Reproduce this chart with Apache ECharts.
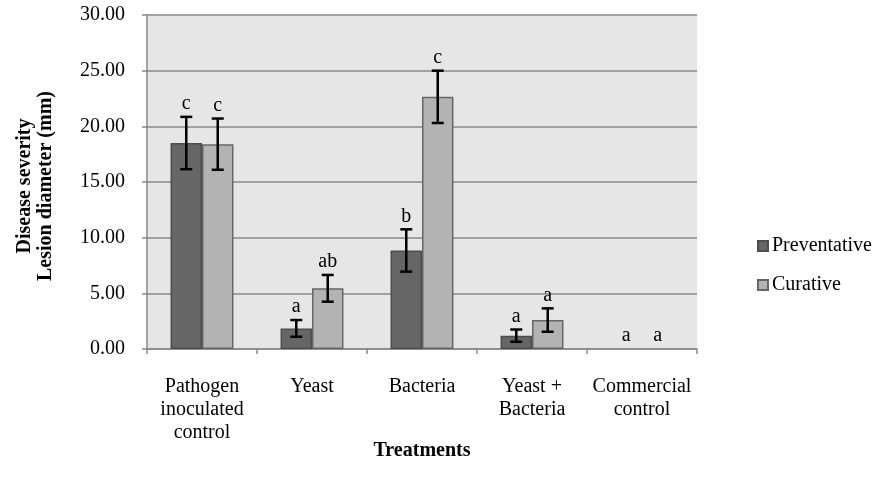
<!DOCTYPE html>
<html>
<head>
<meta charset="utf-8">
<script src="https://cdn.jsdelivr.net/npm/echarts@6/dist/echarts.min.js"></script>
<style>
html,body{margin:0;padding:0;background:#fff;}
#chart{width:875px;height:488px;}
</style>
</head>
<body>
<div id="chart"></div>
<script>
const categories = ['Pathogen\ninoculated\ncontrol', 'Yeast', 'Bacteria', 'Yeast +\nBacteria', 'Commercial\ncontrol'];
const preventative = [18.5, 1.85, 8.85, 1.2, 0];
const curative = [18.4, 5.45, 22.65, 2.6, 0];
const preventativeErr = [2.35, 0.75, 1.9, 0.55, 0];
const curativeErr = [2.3, 1.2, 2.35, 1.05, 0];
const preventativeLetters = ['c', 'a', 'b', 'a', 'a'];
const curativeLetters = ['c', 'ab', 'c', 'a', 'a'];
const yTicks = [0, 5, 10, 15, 20, 25, 30];

const FONT = "'Liberation Serif', 'Times New Roman', serif";
const FS = 20;
const chart = echarts.init(document.getElementById('chart'));

function barData(vals) {
  return vals.map(v => v === 0 ? { value: v, itemStyle: { borderWidth: 0 } } : v);
}

function errSeries(name, vals, errs, letters, sign) {
  return {
    type: 'custom',
    name: name,
    z: 10,
    data: vals.map((v, i) => [i, v, errs[i]]),
    encode: { x: 0, y: 1 },
    renderItem: function (params, api) {
      const idx = api.value(0);
      const val = api.value(1);
      const err = api.value(2);
      const band = api.size([1, 0])[0];
      const off = sign * band * 0.143;
      const x = api.coord([idx, val])[0] + off;
      const top = api.coord([idx, val + err])[1];
      const bot = api.coord([idx, val - err])[1];
      const children = [];
      const st = { stroke: '#000', lineWidth: 2.5 };
      if (err > 0) {
        children.push({ type: 'line', shape: { x1: x, y1: top, x2: x, y2: bot }, style: st });
        children.push({ type: 'line', shape: { x1: x - 6, y1: top, x2: x + 6, y2: top }, style: st });
        children.push({ type: 'line', shape: { x1: x - 6, y1: bot, x2: x + 6, y2: bot }, style: st });
      }
      children.push({
        type: 'text',
        style: {
          text: letters[params.dataIndex],
          x: x, y: top - 3,
          textAlign: 'center', textVerticalAlign: 'bottom',
          font: FS + 'px ' + FONT, fill: '#000'
        }
      });
      return { type: 'group', children: children };
    }
  };
}

chart.setOption({
  animation: false,
  backgroundColor: '#fff',
  grid: { left: 147, right: 178, top: 15, bottom: 139, show: true, backgroundColor: '#e6e6e6', borderWidth: 0 },
  legend: {
    data: ['Preventative', 'Curative'],
    orient: 'vertical',
    left: 752, top: 231,
    icon: 'rect',
    itemWidth: 10, itemHeight: 10, itemGap: 19,
    textStyle: { fontFamily: FONT, fontSize: FS, color: '#000', padding: [0, 0, 0, -1] }
  },
  xAxis: {
    type: 'category',
    data: categories,
    axisLine: { lineStyle: { color: '#888', width: 1.5 } },
    axisTick: { show: true, length: 5, lineStyle: { color: '#888', width: 1.5 } },
    axisLabel: { fontFamily: FONT, fontSize: FS, color: '#000', lineHeight: 23, margin: 26, interval: 0 }
  },
  yAxis: {
    type: 'value',
    min: 0, max: 30, interval: 5,
    axisLine: { show: true, lineStyle: { color: '#888', width: 1.5 } },
    axisTick: { show: true, length: 5, lineStyle: { color: '#888', width: 1.5 } },
    axisLabel: {
      fontFamily: FONT, fontSize: FS, color: '#000', margin: 22,
      formatter: v => yTicks.includes(v) ? v.toFixed(2) : ''
    },
    splitLine: { lineStyle: { color: '#888', width: 1.5 } }
  },
  graphic: [
    {
      type: 'text', x: 35, y: 186, rotation: Math.PI / 2,
      style: {
        text: 'Disease severity\nLesion diameter (mm)',
        textAlign: 'center', textVerticalAlign: 'middle',
        font: 'bold ' + FS + 'px ' + FONT, lineHeight: 21, fill: '#000'
      }
    },
    {
      type: 'text', x: 422, y: 451,
      style: {
        text: 'Treatments', textAlign: 'center', textVerticalAlign: 'middle',
        font: 'bold ' + FS + 'px ' + FONT, fill: '#000'
      }
    }
  ],
  series: [
    {
      name: 'Preventative', type: 'bar', data: barData(preventative),
      barWidth: '28.6%', barGap: '0%',
      itemStyle: { color: '#666666', borderColor: '#4d4d4d', borderWidth: 1.5 }
    },
    {
      name: 'Curative', type: 'bar', data: barData(curative),
      barWidth: '28.6%', barGap: '0%',
      itemStyle: { color: '#b3b3b3', borderColor: '#666666', borderWidth: 1.5 }
    },
    errSeries('errP', preventative, preventativeErr, preventativeLetters, -1),
    errSeries('errC', curative, curativeErr, curativeLetters, 1)
  ]
});
</script>
</body>
</html>
